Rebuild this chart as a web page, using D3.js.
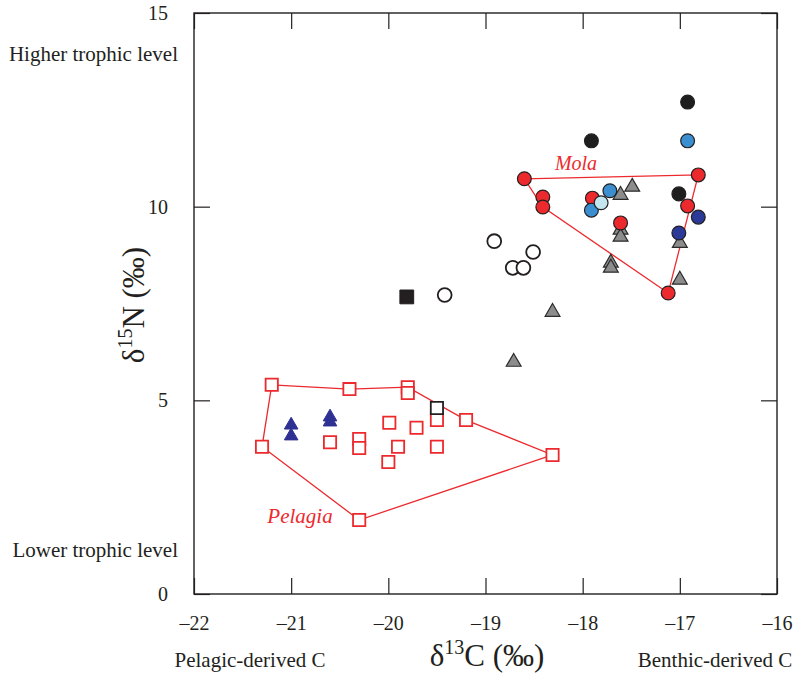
<!DOCTYPE html>
<html>
<head>
<meta charset="utf-8">
<script src="https://cdn.jsdelivr.net/npm/d3@7"></script>
<style>
  body { margin: 0; background: #fff; }
  text { font-family: "Liberation Serif", "Times New Roman", serif; fill: #231f20; }
</style>
</head>
<body>
<svg id="chart" width="797" height="674"></svg>
<script>
// δ13C / δ15N values
const blackCircles = [[-16.92, 12.70], [-17.91, 11.70], [-17.01, 10.33]];
const blueCircles = [[-16.92, 11.70], [-17.72, 10.41], [-17.91, 9.91]];
const lightBlueCircles = [[-17.81, 10.10]];
const navyCircles = [[-16.81, 9.73], [-17.01, 9.32]];
const molaCircles = [
  [-18.60, 10.72], [-16.81, 10.82], [-18.41, 10.25], [-18.41, 9.99],
  [-17.90, 10.22], [-16.92, 10.02], [-17.61, 9.58], [-17.12, 7.77]
];
const molaHull = [[-18.60, 10.72], [-16.81, 10.82], [-17.12, 7.77], [-18.41, 9.99]];
const grayTriangles = [
  [-17.49, 10.51], [-17.61, 10.30], [-17.61, 9.40], [-17.61, 9.22], [-17.00, 9.06],
  [-17.71, 8.55], [-17.71, 8.42], [-17.00, 8.11], [-18.31, 7.28], [-18.71, 5.99]
];
const openCircles = [[-18.91, 9.11], [-18.51, 8.83], [-18.72, 8.42], [-18.61, 8.42], [-19.42, 7.72]];
const blackSquares = [[-19.81, 7.67]];
const openBlackSquares = [[-19.50, 4.80]];
const pelagiaSquares = [
  [-21.20, 5.40], [-20.40, 5.29], [-19.80, 5.34], [-19.80, 5.19], [-19.50, 4.49],
  [-19.20, 4.49], [-18.31, 3.59], [-20.30, 1.91], [-21.30, 3.80], [-19.99, 4.42],
  [-19.71, 4.29], [-20.60, 3.92], [-20.30, 4.00], [-20.30, 3.77], [-19.90, 3.80],
  [-19.50, 3.80], [-20.00, 3.41]
];
const pelagiaHull = [
  [-21.20, 5.40], [-20.40, 5.29], [-19.80, 5.34], [-19.20, 4.49],
  [-18.31, 3.59], [-20.30, 1.91], [-21.30, 3.80]
];
const navyTriangles = [[-21.00, 4.36], [-21.00, 4.08], [-20.60, 4.57], [-20.60, 4.44]];

const xTicks = [-22, -21, -20, -19, -18, -17, -16];
const yTicks = [0, 5, 10, 15];

const RED = '#ec2a2e';
const svg = d3.select('#chart');
const x = d3.scaleLinear().domain([-22, -16]).range([194, 777]);
const y = d3.scaleLinear().domain([0, 15]).range([594, 13]);

// frame
svg.append('rect')
  .attr('x', 194).attr('y', 13).attr('width', 583).attr('height', 581)
  .attr('fill', 'none').attr('stroke', '#231f20').attr('stroke-width', 1.4);

const minus = v => (v < 0 ? '\u2013' + Math.abs(v) : String(v));

const axisStyle = g => {
  g.select('.domain').remove();
  g.selectAll('.tick line').attr('stroke', '#231f20').attr('stroke-width', 1.2);
  g.selectAll('.tick text').style('font-size', '20px').attr('fill', '#231f20');
};

svg.append('g').attr('transform', 'translate(0,594)')
  .call(d3.axisBottom(x).tickValues(xTicks).tickSizeInner(-16).tickPadding(22).tickFormat(minus))
  .call(axisStyle);
svg.append('g').attr('transform', 'translate(0,13)')
  .call(d3.axisTop(x).tickValues(xTicks).tickSizeInner(-16).tickFormat(''))
  .call(axisStyle);
svg.append('g').attr('transform', 'translate(194,0)')
  .call(d3.axisLeft(y).tickValues(yTicks).tickSizeInner(-16).tickPadding(26))
  .call(axisStyle);
svg.append('g').attr('transform', 'translate(777,0)')
  .call(d3.axisRight(y).tickValues(yTicks).tickSizeInner(-16).tickFormat(''))
  .call(axisStyle);

// hulls
const line = d3.line().x(d => x(d[0])).y(d => y(d[1])).curve(d3.curveLinearClosed);
svg.append('path').attr('d', line(pelagiaHull))
  .attr('fill', 'none').attr('stroke', RED).attr('stroke-width', 1.3);
svg.append('path').attr('d', line(molaHull))
  .attr('fill', 'none').attr('stroke', RED).attr('stroke-width', 1.3);

const sym = (type, size) => d3.symbol().type(type).size(size)();

const plot = (data, type, size, fill, stroke, width) => {
  svg.append('g').selectAll('path').data(data).join('path')
    .attr('d', sym(type, size))
    .attr('transform', d => `translate(${x(d[0])},${y(d[1])})`)
    .attr('fill', fill).attr('stroke', stroke).attr('stroke-width', width);
};

plot(pelagiaSquares, d3.symbolSquare, 150, '#fff', RED, 1.8);
plot(openBlackSquares, d3.symbolSquare, 150, '#fff', '#231f20', 1.8);
plot(blackSquares, d3.symbolSquare, 190, '#231f20', '#231f20', 1);
plot(navyTriangles, d3.symbolTriangle, 80, '#2e3192', '#2e3192', 1);
plot(grayTriangles, d3.symbolTriangle, 95, '#8c8c8c', '#2b2b2b', 1.2);
plot(openCircles, d3.symbolCircle, 150, '#fff', '#231f20', 1.8);
plot(blackCircles, d3.symbolCircle, 150, '#1e1e1e', '#1e1e1e', 1.2);
plot(molaCircles, d3.symbolCircle, 150, RED, '#231f20', 1.2);
plot(blueCircles, d3.symbolCircle, 150, '#3b8fd1', '#231f20', 1.2);
plot(lightBlueCircles, d3.symbolCircle, 150, '#c3e6ee', '#231f20', 1.2);
plot(navyCircles, d3.symbolCircle, 150, '#2b3a98', '#231f20', 1.2);

// group labels
svg.append('text').attr('x', 576).attr('y', 170).attr('text-anchor', 'middle')
  .style('font-size', '20px').style('font-style', 'italic').style('fill', RED).text('Mola');
svg.append('text').attr('x', 300).attr('y', 523).attr('text-anchor', 'middle')
  .style('font-size', '21px').style('font-style', 'italic').style('fill', RED).text('Pelagia');

// side notes
const note = (tx, ty, anchor, s) => svg.append('text').attr('x', tx).attr('y', ty)
  .attr('text-anchor', anchor).style('font-size', '21px').text(s);
note(178, 61, 'end', 'Higher trophic level');
note(178, 557, 'end', 'Lower trophic level');
note(250, 667, 'middle', 'Pelagic-derived C');
note(715, 667, 'middle', 'Benthic-derived C');

// axis titles
const xt = svg.append('text').attr('x', 487).attr('y', 666).attr('text-anchor', 'middle')
  .style('font-size', '31px');
xt.append('tspan').text('\u03b4');
xt.append('tspan').attr('dy', -12).style('font-size', '20px').text('13');
xt.append('tspan').attr('dy', 12).text('C (\u2030)');

const yt = svg.append('text').attr('transform', 'translate(144,305) rotate(-90)')
  .attr('text-anchor', 'middle').style('font-size', '31px');
yt.append('tspan').text('\u03b4');
yt.append('tspan').attr('dy', -12).style('font-size', '20px').text('15');
yt.append('tspan').attr('dy', 12).text('N (\u2030)');
</script>
</body>
</html>
